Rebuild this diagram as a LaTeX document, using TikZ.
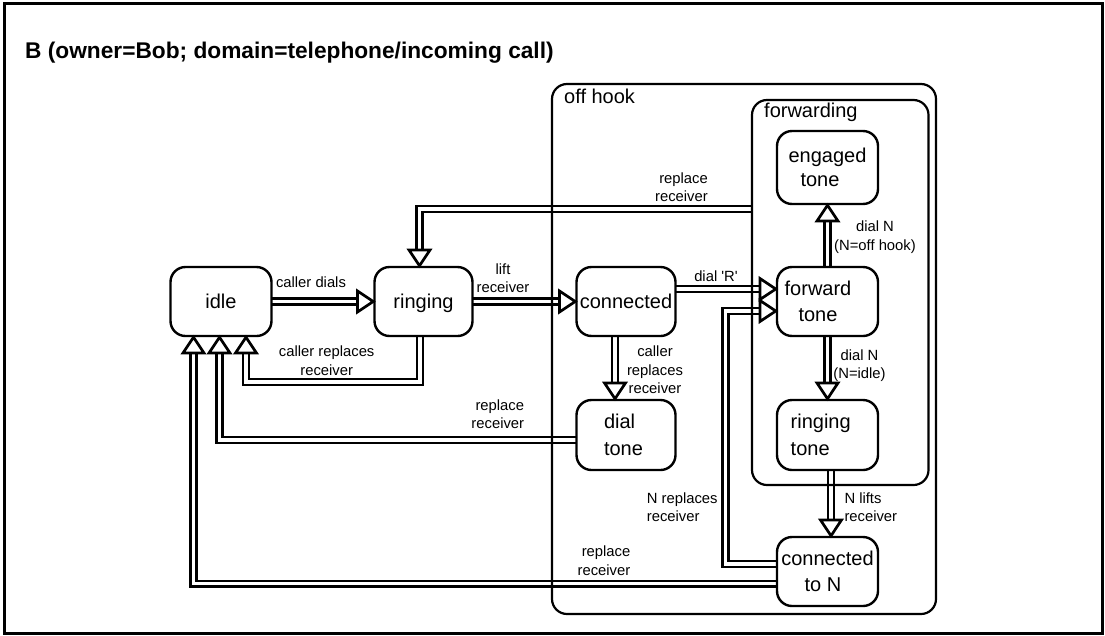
\documentclass[tikz,border=0pt]{standalone}
\usepackage{fontspec}
\setmainfont{Liberation Sans}
\newcommand\sqt{\XeTeXglyph\XeTeXcharglyph"27\relax}
\pgfdeclarelayer{background}
\pgfsetlayers{background,main}
\tikzset{
 stbox/.style={draw, line width=2.4pt, rounded corners=15pt, fill=white, inner sep=0pt, outer sep=0pt, font=\fontsize{20}{26.5}\selectfont, align=center},
 cont/.style={draw, line width=2.2pt, rounded corners=15pt, inner sep=0pt, outer sep=0pt},
 lbl/.style={font=\fontsize{14.8}{18.3}\selectfont, inner sep=0pt},
 contlbl/.style={font=\fontsize{20}{24}\selectfont, inner sep=0pt, anchor=base west},
 dbl/.style={double, double distance=3.1pt, line width=2.6pt, shorten >=14pt},
 ahd/.pic={\draw[line width=2.7pt, fill=white, line join=miter] (-1.2,0) -- (-17,10.5) -- (-17,-10.5) -- cycle;},
}
\begin{document}
\begin{tikzpicture}[x=1pt,y=1pt]
\useasboundingbox (0,0) rectangle (1105,-635);
\draw[line width=3pt] (4.2,-3.7) rectangle (1102.5,-633.2);
\node[anchor=base west, inner sep=0pt, font=\fontsize{22.7}{27}\selectfont\bfseries] (title) at (25,-58.3) {B (owner=Bob; domain=telephone/incoming call)};

% containers
\node[cont, minimum width=384pt, minimum height=530pt] (offhook) at (744,-349) {};
\node[cont, minimum width=176.5pt, minimum height=385pt] (forwarding) at (840.25,-292.5) {};
\node[contlbl] (offhooklbl) at (564,-103.5) {off hook};
\node[contlbl] (fwdlbl) at (764,-117.5) {forwarding};

% states
\node[stbox, minimum width=101pt, minimum height=69pt, text height=14.6pt, text depth=0pt] (idle) at (221,-301.5) {idle};
\node[stbox, minimum width=98pt, minimum height=69pt, text height=14.6pt, text depth=0pt] (ringing) at (423.5,-301.5) {ringing};
\node[stbox, minimum width=99pt, minimum height=69pt, text height=14.6pt, text depth=0pt] (connected) at (626,-301.5) {connected};
\node[stbox, minimum width=99pt, minimum height=70pt, align=left, text width=44pt, inner xsep=27.5pt] (dialtone) at (626,-435) {dial\\tone};
\node[stbox, minimum width=101pt, minimum height=73pt, font=\fontsize{20}{24}\selectfont] (engaged) at (827.5,-167.5) {engaged\\tone\hspace*{15pt}};
\node[stbox, minimum width=101pt, minimum height=69pt] (forward) at (827.5,-301.5) {forward\hspace*{19pt}\\tone\hspace*{19pt}};
\node[stbox, minimum width=101pt, minimum height=70pt, align=left, text width=73.6pt, inner xsep=13.7pt] (ringtone) at (827.5,-435) {ringing\\tone};
\node[stbox, minimum width=101pt, minimum height=69pt] (connN) at (827.5,-571.5) {connected\\to N\hspace*{9pt}};

% labels (base = baseline of the last line)
\node[lbl, anchor=base] (l1) at (311,-287.3) {caller dials};
\node[lbl, anchor=base, align=center] (l2) at (503,-292.7) {lift\\receiver};
\node[lbl, anchor=base, align=center] (l3) at (326.7,-375) {caller replaces\\receiver};
\node[lbl, anchor=base east, align=right] (l4) at (524.3,-428.3) {replace\\receiver};
\node[lbl, anchor=base east, align=right] (l5) at (708,-201.7) {replace\\receiver};
\node[lbl, anchor=base east, align=right] (l6) at (630.5,-575) {replace\\receiver};
\node[lbl, anchor=base] (l7) at (716,-281.7) {dial \sqt R\sqt};
\node[lbl, anchor=base, align=center] (l8) at (655,-393.3) {caller\\replaces\\receiver};
\node[lbl, anchor=base, align=center] (l9) at (875,-250) {dial N\\(N=off hook)};
\node[lbl, anchor=base, align=center] (l10) at (859.5,-378.3) {dial N\\(N=idle)};
\node[lbl, anchor=base west, align=left] (l11) at (844.3,-521.5) {N lifts\\receiver};
\node[lbl, anchor=base west, align=left] (l12) at (646.7,-521.3) {N replaces\\receiver};

% connectors
\begin{pgfonlayer}{background}
\draw[dbl] (idle.east) -- (ringing.west);
\draw[dbl] (ringing.east) -- (connected.west);
\draw[dbl] ([xshift=-3.5pt]ringing.south) -- ++(0,-46) -| ([xshift=25pt]idle.south);
\draw[dbl] ([yshift=12.5pt]connected.east) -- ([yshift=12.5pt]forward.west);
\draw[dbl] ([xshift=-11pt]connected.south) -- ([xshift=-11pt]dialtone.north);
\draw[dbl] ([yshift=-5pt]dialtone.west) -| ([xshift=-1.5pt]idle.south);
\draw[dbl] ([yshift=-12.2pt]connN.west) -| ([xshift=-27.5pt]idle.south);
\draw[dbl] ([yshift=7.5pt]connN.west) -- ++(-51.5,0) |- ([yshift=-9.5pt]forward.west);
\draw[dbl] (forward.north) -- (engaged.south);
\draw[dbl] (forward.south) -- (ringtone.north);
\draw[dbl] ([xshift=3.5pt]ringtone.south) -- ([xshift=3.5pt]connN.north);
\draw[dbl] ([yshift=83.5pt]forwarding.west) -| ([xshift=-4pt]ringing.north);
\end{pgfonlayer}

% arrow heads
\pic at (ringing.west) {ahd};
\pic at (connected.west) {ahd};
\pic[rotate=90] at ([xshift=25pt]idle.south) {ahd};
\pic at ([yshift=12.5pt]forward.west) {ahd};
\pic[rotate=-90] at ([xshift=-11pt]dialtone.north) {ahd};
\pic[rotate=90] at ([xshift=-1.5pt]idle.south) {ahd};
\pic[rotate=90] at ([xshift=-27.5pt]idle.south) {ahd};
\pic at ([yshift=-9.5pt]forward.west) {ahd};
\pic[rotate=90] at (engaged.south) {ahd};
\pic[rotate=-90] at (ringtone.north) {ahd};
\pic[rotate=-90] at ([xshift=3.5pt]connN.north) {ahd};
\pic[rotate=-90] at ([xshift=-4pt]ringing.north) {ahd};
\end{tikzpicture}
\end{document}
